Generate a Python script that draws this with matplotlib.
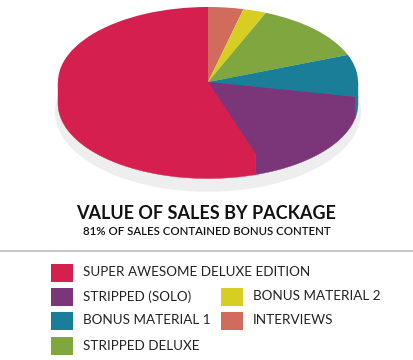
import numpy as np
import matplotlib
matplotlib.use("Agg")
import matplotlib.pyplot as plt
from matplotlib.patches import Ellipse, Rectangle

# Data (clockwise from the top, ending at 12 o'clock)
labels = ["INTERVIEWS", "BONUS MATERIAL 2", "STRIPPED DELUXE", "BONUS MATERIAL 1",
          "STRIPPED (SOLO)", "SUPER AWESOME DELUXE EDITION"]
values = [3.8, 2.5, 12.8, 9.1, 16.7, 55.1]
colors = ["#D06B5E", "#D6CE22", "#80A63F", "#1B7E98", "#7B3579", "#D41F4F"]
title = "VALUE OF SALES BY PACKAGE"
subtitle = "81% OF SALES CONTAINED BONUS CONTENT"

W, H = 414, 360
CX, CY, RX, RY, DEPTH = 208, 82, 150, 75, 21.5

fig = plt.figure(figsize=(W / 100, H / 100), dpi=100, facecolor="white")
ax = fig.add_axes([0, 0, 1, 1])
ax.pie(values, colors=colors, startangle=90, counterclock=False, radius=1,
       wedgeprops=dict(linewidth=0), frame=True, center=(0, 0))
for p in list(ax.patches):
    p.set_zorder(5)
ax.set_aspect("auto")
ax.set_xlim((0 - CX) / RX, (W - CX) / RX)
ax.set_ylim((CY - H) / RY, CY / RY)
ax.axis("off")

d = DEPTH / RY
# Drop shadow
ax.add_patch(Ellipse((0, -30 / RY), 2 * 153 / RX, 2 * 79.7 / RY, fc="#EEEEEE", ec="none", zorder=1))

# Side wall: each polygon also fills the wedge's own top sector so no seam shows
edges = 360 * np.cumsum([0] + values) / sum(values)
for a0, a1, c in zip(edges[:-1], edges[1:], colors):
    lo, hi = max(a0, 90), min(a1, 270)
    if hi <= lo:
        continue
    t = np.radians(np.linspace(lo, hi, 80))
    x, y = np.sin(t), np.cos(t)
    px = np.r_[x, x[-1], 0, x[0]]
    py = np.r_[y - d, y[-1], 0, y[0]]
    ax.fill(px, py, fc=c, ec=c, lw=0.3, zorder=3)

def X(px): return (px - CX) / RX
def Y(py): return (CY - py) / RY

# Titles and rule
ax.text(X(206), Y(213.5), title, ha="center", va="center", family="Lato", weight="bold",
        fontsize=13, color="#111111")
ax.text(X(207), Y(231.5), subtitle, ha="center", va="center", family="Lato", weight="semibold",
        fontsize=8.2, color="#111111")
ax.plot([X(0), X(W)], [Y(251.5), Y(251.5)], color="#BDBDBD", lw=1.2, zorder=2)

# Legend
legend = [("SUPER AWESOME DELUXE EDITION", 51, 264, 272.5),
          ("STRIPPED (SOLO)", 51, 288, 296.5),
          ("BONUS MATERIAL 1", 51, 312, 320.5),
          ("STRIPPED DELUXE", 51, 337, 346),
          ("BONUS MATERIAL 2", 221, 287.5, 296.5),
          ("INTERVIEWS", 221, 311.5, 320.5)]
cmap = dict(zip(labels, colors))
for name, sx, sy, ty in legend:
    ax.add_patch(Rectangle((X(sx), Y(sy + 18)), 22 / RX, 18 / RY, fc=cmap[name], ec="none", zorder=2))
    ax.text(X(sx + 32), Y(ty), name, ha="left", va="center", family="Lato",
            fontsize=9.7, color="#222222")

fig.savefig("out.png", dpi=100)
